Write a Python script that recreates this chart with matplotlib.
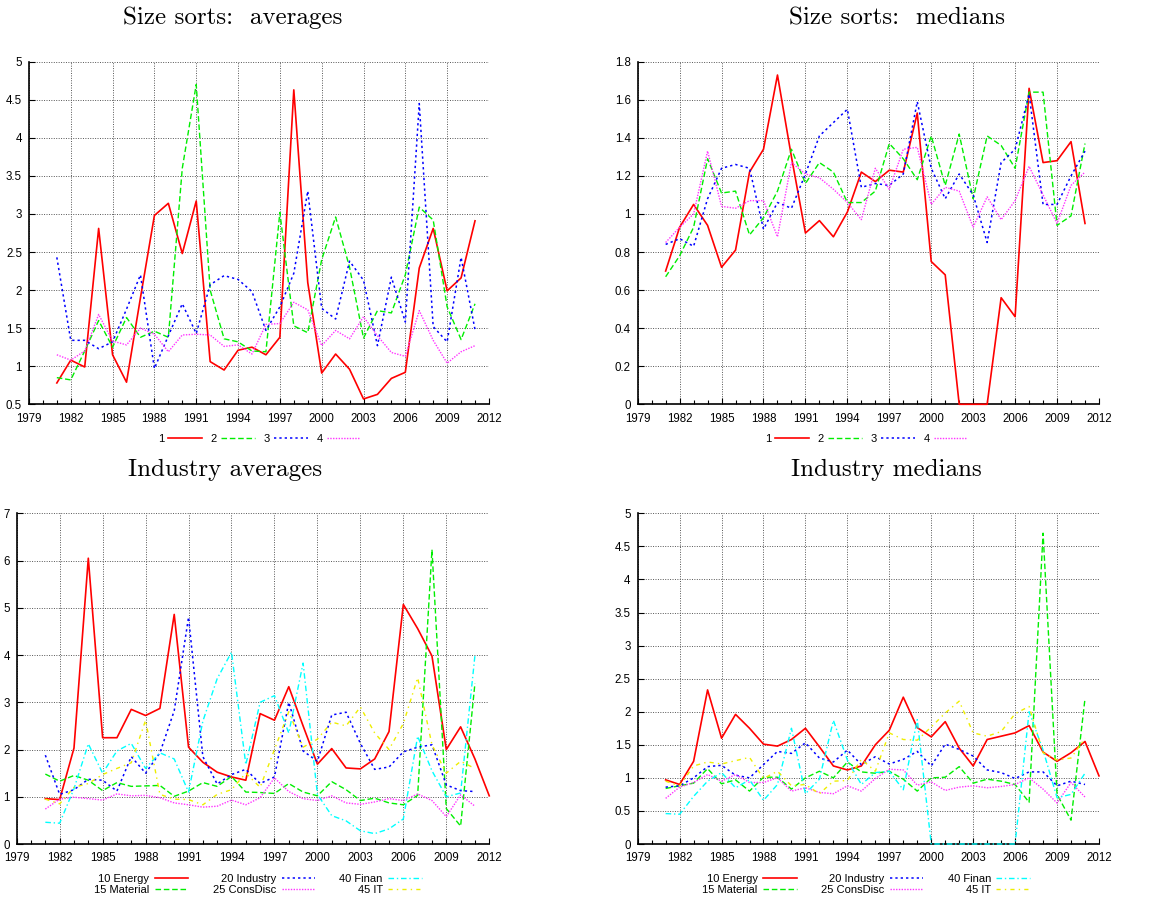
import numpy as np
import matplotlib
matplotlib.use('Agg')
import matplotlib.pyplot as plt
from matplotlib.ticker import MultipleLocator, FixedLocator, FuncFormatter

plt.rcParams['font.family'] = ['Liberation Sans', 'DejaVu Sans']

years = list(range(1981, 2012))
years_energy = list(range(1981, 2013))

# Size sorts: averages
size_avg_1 = [0.78, 1.08, 0.99, 2.81, 1.15, 0.79, 1.90, 2.98, 3.14, 2.48, 3.17, 1.06, 0.95, 1.21, 1.25, 1.15,
              1.38, 4.63, 2.10, 0.91, 1.16, 0.96, 0.57, 0.63, 0.84, 0.92, 2.29, 2.81, 1.99, 2.16, 2.91]
size_avg_2 = [0.85, 0.82, 1.20, 1.60, 1.25, 1.64, 1.38, 1.46, 1.38, 3.60, 4.70, 2.00, 1.36, 1.32, 1.20, 1.19,
              3.02, 1.53, 1.44, 2.40, 2.96, 2.30, 1.37, 1.73, 1.70, 2.20, 3.09, 2.92, 1.78, 1.35, 1.82]
size_avg_3 = [2.43, 1.34, 1.34, 1.23, 1.32, 1.75, 2.20, 0.97, 1.40, 1.82, 1.43, 2.07, 2.19, 2.14, 1.98, 1.47,
              1.78, 2.22, 3.30, 1.76, 1.62, 2.38, 2.13, 1.27, 2.17, 1.58, 4.45, 1.52, 1.32, 2.43, 1.48]
size_avg_4 = [1.15, 1.08, 1.20, 1.68, 1.33, 1.28, 1.50, 1.42, 1.19, 1.41, 1.42, 1.41, 1.26, 1.28, 1.16, 1.55,
              1.56, 1.84, 1.74, 1.27, 1.47, 1.36, 1.65, 1.40, 1.18, 1.13, 1.73, 1.34, 1.04, 1.19, 1.27]

# Size sorts: medians
size_med_1 = [0.70, 0.93, 1.05, 0.94, 0.72, 0.81, 1.22, 1.34, 1.73, 1.30, 0.90, 0.965, 0.88, 1.01, 1.22, 1.17,
              1.23, 1.22, 1.53, 0.75, 0.68, 0.0, 0.0, 0.0, 0.56, 0.46, 1.66, 1.27, 1.28, 1.38, 0.95]
size_med_2 = [0.67, 0.78, 0.93, 1.29, 1.11, 1.12, 0.89, 0.98, 1.12, 1.34, 1.16, 1.27, 1.22, 1.06, 1.06, 1.12,
              1.37, 1.29, 1.18, 1.41, 1.15, 1.42, 1.08, 1.41, 1.36, 1.24, 1.64, 1.64, 0.94, 0.99, 1.37]
size_med_3 = [0.84, 0.87, 0.83, 1.08, 1.24, 1.26, 1.24, 0.92, 1.06, 1.03, 1.21, 1.41, 1.48, 1.55, 1.14, 1.16,
              1.15, 1.21, 1.59, 1.24, 1.08, 1.21, 1.10, 0.85, 1.27, 1.34, 1.63, 1.05, 1.05, 1.20, 1.33]
size_med_4 = [0.85, 0.93, 1.00, 1.33, 1.04, 1.03, 1.07, 1.07, 0.88, 1.27, 1.21, 1.19, 1.13, 1.06, 0.97, 1.24,
              1.13, 1.34, 1.35, 1.05, 1.14, 1.12, 0.93, 1.09, 0.97, 1.07, 1.25, 1.10, 0.95, 1.15, 1.22]

# Industry averages
ind_avg_energy = [0.96, 0.94, 2.03, 6.05, 2.25, 2.25, 2.85, 2.72, 2.87, 4.86, 2.05, 1.73, 1.52, 1.42, 1.35, 2.76,
                  2.62, 3.33, 2.50, 1.69, 2.02, 1.61, 1.59, 1.80, 2.38, 5.07, 4.56, 3.98, 2.00, 2.48, 1.80, 1.02]
ind_avg_material = [1.48, 1.33, 1.45, 1.35, 1.13, 1.30, 1.22, 1.23, 1.24, 1.01, 1.12, 1.30, 1.22, 1.43, 1.10, 1.09,
                    1.07, 1.28, 1.10, 1.02, 1.32, 1.15, 0.92, 0.97, 0.87, 0.83, 1.03, 6.23, 0.75, 0.38, 3.40]
ind_avg_industry = [1.88, 1.05, 1.15, 1.37, 1.35, 1.12, 1.85, 1.50, 1.93, 2.82, 4.80, 1.85, 1.27, 1.47, 1.58, 1.28,
                    1.42, 3.00, 1.97, 1.75, 2.73, 2.79, 2.13, 1.58, 1.63, 1.95, 2.05, 2.10, 1.25, 1.13, 1.11]
ind_avg_consdisc = [0.74, 0.95, 0.99, 0.96, 0.93, 1.06, 1.02, 1.03, 0.98, 0.87, 0.83, 0.78, 0.80, 0.93, 0.83, 0.98,
                    1.40, 1.11, 0.96, 0.92, 1.02, 0.87, 0.84, 0.89, 0.96, 0.92, 1.06, 0.92, 0.58, 1.04, 0.80]
ind_avg_finan = [0.46, 0.44, 1.17, 2.12, 1.50, 1.97, 2.13, 1.60, 1.93, 1.80, 1.10, 2.60, 3.50, 4.06, 1.68, 3.00,
                 3.14, 2.35, 3.83, 1.05, 0.60, 0.49, 0.28, 0.22, 0.32, 0.53, 2.28, 1.55, 1.00, 1.08, 3.99]
ind_avg_it = [0.95, 0.85, 1.20, 1.28, 1.47, 1.60, 1.72, 2.62, 1.05, 0.95, 0.94, 0.83, 1.05, 1.15, 1.50, 1.20,
              2.00, 2.80, 2.05, 2.22, 2.58, 2.50, 2.90, 2.35, 2.00, 2.55, 3.52, 2.10, 1.50, 1.75, 1.60]

# Industry medians
ind_med_energy = [0.97, 0.90, 1.25, 2.33, 1.60, 1.96, 1.75, 1.51, 1.48, 1.58, 1.75, 1.47, 1.18, 1.12, 1.18, 1.50,
                  1.72, 2.22, 1.76, 1.62, 1.85, 1.45, 1.18, 1.58, 1.63, 1.68, 1.79, 1.39, 1.25, 1.38, 1.55, 1.03]
ind_med_material = [0.84, 0.88, 0.92, 1.14, 0.91, 0.97, 0.80, 1.01, 1.01, 0.83, 1.00, 1.10, 1.00, 1.24, 1.09, 1.07,
                    1.10, 0.98, 0.80, 1.00, 1.01, 1.17, 0.92, 0.98, 0.95, 0.90, 0.63, 4.70, 0.75, 0.36, 2.20]
ind_med_industry = [0.86, 0.88, 1.00, 1.17, 1.19, 1.04, 1.00, 1.20, 1.40, 1.37, 1.53, 1.30, 1.24, 1.42, 1.20, 1.32,
                    1.21, 1.28, 1.40, 1.18, 1.51, 1.43, 1.33, 1.12, 1.08, 0.99, 1.09, 1.09, 0.88, 0.95, 0.90]
ind_med_consdisc = [0.69, 0.86, 0.93, 1.05, 0.95, 1.05, 0.93, 0.93, 1.00, 0.80, 0.85, 0.78, 0.76, 0.88, 0.80, 0.99,
                    1.13, 1.12, 0.89, 0.94, 0.81, 0.86, 0.88, 0.85, 0.87, 0.90, 1.00, 0.83, 0.62, 0.93, 0.71]
ind_med_finan = [0.46, 0.45, 0.72, 0.95, 1.08, 0.85, 0.97, 0.66, 0.90, 1.75, 0.76, 0.98, 1.87, 1.27, 0.90, 1.08,
                 1.10, 0.82, 1.88, 0.0, 0.0, 0.0, 0.0, 0.0, 0.0, 0.0, 2.00, 1.42, 0.70, 0.75, 1.07]
ind_med_it = [0.95, 0.88, 1.18, 1.24, 1.21, 1.26, 1.31, 0.99, 1.10, 0.88, 0.90, 0.76, 0.95, 0.96, 1.28, 1.10,
              1.68, 1.58, 1.57, 1.77, 1.98, 2.16, 1.68, 1.63, 1.70, 1.97, 2.08, 1.38, 1.27, 1.30, 1.60]

size_labels = ['1', '2', '3', '4']
ind_labels = ['10 Energy', '15 Material', '20 Industry', '25 ConsDisc', '40 Finan', '45 IT']

# gnuplot-like line types
styles = [
    dict(color='#ff0000', ls='-', lw=1.2),
    dict(color='#00ee00', ls=(0, (4, 2)), lw=1.0),
    dict(color='#0000ff', ls=(0, (1.5, 2)), lw=1.1),
    dict(color='#ff33ff', ls=(0, (1, 1)), lw=1.0),
    dict(color='#00ffff', ls=(0, (4, 2, 1, 2)), lw=1.0),
    dict(color='#eeee00', ls=(0, (3, 3, 1, 3)), lw=1.0),
]

fig = plt.figure(figsize=(11.72, 9.02), dpi=100)

def fmt(v, pos):
    return '%g' % round(v, 6)

def setup_axes(ax, ylim, ystep):
    ax.set_xlim(1979, 2012)
    ax.set_ylim(*ylim)
    ax.xaxis.set_major_locator(FixedLocator(range(1979, 2013, 3)))
    ax.xaxis.set_minor_locator(FixedLocator(range(1979, 2013)))
    ax.yaxis.set_major_locator(MultipleLocator(ystep))
    ax.yaxis.set_major_formatter(FuncFormatter(fmt))
    ax.tick_params(which='both', direction='in', labelsize=8.3, colors='black')
    ax.tick_params(axis='x', which='both', pad=6)
    ax.tick_params(axis='y', which='both', pad=5)
    ax.tick_params(which='major', length=4, width=0.8)
    ax.tick_params(which='minor', length=3, width=0.8)
    for s in ['top', 'right']:
        ax.spines[s].set_visible(False)
    for s in ['left', 'bottom']:
        ax.spines[s].set_linewidth(1.2)
    ax.grid(True, which='major', color='#555555', ls=(0, (1, 1.5)), lw=0.7)
    ax.set_axisbelow(True)

def draw(ax, xs_list, ys_list, labels):
    handles = []
    for i, (xs, ys, lab) in enumerate(zip(xs_list, ys_list, labels)):
        h, = ax.plot(xs, ys, label=lab, clip_on=False, zorder=3, **styles[i])
        handles.append(h)
    return handles

# top-left
ax1 = fig.add_axes([0.0247, 0.5518, 0.3925, 0.3798])
setup_axes(ax1, (0.5, 5), 0.5)
h = draw(ax1, [years] * 4, [size_avg_1, size_avg_2, size_avg_3, size_avg_4], size_labels)
fig.legend(handles=h, loc='center', bbox_to_anchor=(0.221, 0.513), ncol=4, frameon=False,
           markerfirst=False, fontsize=8, handlelength=3, handletextpad=0.4, columnspacing=0.8)

# top-right
ax2 = fig.add_axes([0.5441, 0.5518, 0.3936, 0.3798])
setup_axes(ax2, (0, 1.8), 0.2)
h = draw(ax2, [years] * 4, [size_med_1, size_med_2, size_med_3, size_med_4], size_labels)
fig.legend(handles=h, loc='center', bbox_to_anchor=(0.739, 0.513), ncol=4, frameon=False,
           markerfirst=False, fontsize=8, handlelength=3, handletextpad=0.4, columnspacing=0.8)

# bottom-left
ax3 = fig.add_axes([0.01425, 0.0643, 0.4032, 0.3666])
setup_axes(ax3, (0, 7), 1)
h = draw(ax3, [years_energy] + [years] * 5,
         [ind_avg_energy, ind_avg_material, ind_avg_industry, ind_avg_consdisc, ind_avg_finan, ind_avg_it],
         ind_labels)
fig.legend(handles=h, loc='center', bbox_to_anchor=(0.22, 0.0195), ncol=3, frameon=False,
           markerfirst=False, fontsize=8, handlelength=3, handletextpad=0.5, columnspacing=2.2,
           labelspacing=0.1)

# bottom-right
ax4 = fig.add_axes([0.5441, 0.0643, 0.3936, 0.3666])
setup_axes(ax4, (0, 5), 0.5)
h = draw(ax4, [years_energy] + [years] * 5,
         [ind_med_energy, ind_med_material, ind_med_industry, ind_med_consdisc, ind_med_finan, ind_med_it],
         ind_labels)
fig.legend(handles=h, loc='center', bbox_to_anchor=(0.739, 0.0195), ncol=3, frameon=False,
           markerfirst=False, fontsize=8, handlelength=3, handletextpad=0.5, columnspacing=2.2,
           labelspacing=0.1)

# titles
title_kw = dict(ha='center', va='center', fontsize=18, fontfamily='cmr10')
fig.text(233 / 1172, 1 - 18 / 902, 'Size sorts:  averages', **title_kw)
fig.text(897 / 1172, 1 - 18 / 902, 'Size sorts:  medians', **title_kw)
fig.text(225 / 1172, 1 - 470 / 902, 'Industry averages', **title_kw)
fig.text(886 / 1172, 1 - 470 / 902, 'Industry medians', **title_kw)

fig.savefig('out.png', dpi=100)
